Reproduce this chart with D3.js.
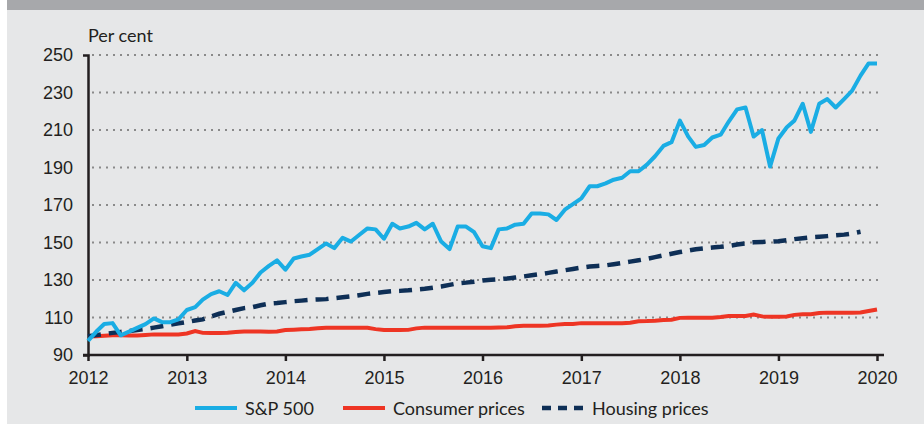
<!DOCTYPE html>
<html>
<head>
<meta charset="utf-8">
<script src="https://cdn.jsdelivr.net/npm/d3@7.9.0/dist/d3.min.js"></script>
<style>
  body { margin: 0; background: #fff; }
  svg { display: block; font-family: Lato, 'Open Sans', sans-serif; }
  .tick text { fill: #231f20; font-size: 18px; }
</style>
</head>
<body>
<svg width="924" height="424"></svg>
<script>
// monthly index values, Jan 2012 onwards
const spx = [
  97.5, 102.5, 106.5, 107, 100.5, 102.5, 104.5, 106.5, 109.5, 107.5, 107.5, 109,
  114, 115.5, 119.5, 122.5, 124, 122, 128.5, 124.5, 128.5, 134, 137.5, 140.5,
  135.5, 141.5, 142.5, 143.5, 146.5, 149.5, 147, 152.5, 150.5, 154, 157.5, 157,
  152, 160, 157.5, 158.5, 160.5, 157, 160, 150.5, 146.5, 158.5, 158.5, 155.5,
  148, 147, 157, 157.5, 159.5, 160, 165.5, 165.5, 165, 162, 167.5, 170.5,
  173.5, 180, 180, 181.5, 183.5, 184.5, 188, 188, 191.5, 196, 201.5, 203.5,
  215, 206.5, 201, 202, 206, 207.5, 214.5, 221, 222, 206.5, 210, 190.5,
  205.5, 211.5, 215, 224, 209, 224, 226.5, 222, 226.5, 231, 239, 245.5, 245.5
];
const cpi = [
  99.8, 100, 100.3, 100.5, 100.5, 100.4, 100.4, 100.7, 101, 101, 100.9, 100.9,
  101.5, 102.8, 101.8, 101.7, 101.7, 101.9, 102.3, 102.5, 102.5, 102.5, 102.4, 102.5,
  103.3, 103.5, 103.7, 103.9, 104.3, 104.5, 104.6, 104.6, 104.6, 104.6, 104.5, 103.8,
  103.3, 103.3, 103.3, 103.4, 104.2, 104.6, 104.6, 104.6, 104.6, 104.6, 104.6, 104.6,
  104.6, 104.6, 104.7, 104.8, 105.3, 105.6, 105.6, 105.6, 105.7, 106.2, 106.5, 106.5,
  107, 107, 107, 107, 107, 107, 107.2, 108, 108.1, 108.3, 108.7, 108.8,
  109.8, 109.9, 109.9, 109.9, 109.9, 110.3, 110.8, 110.8, 110.8, 111.6, 110.6, 110.4,
  110.4, 110.5, 111.4, 111.7, 111.7, 112.4, 112.6, 112.6, 112.6, 112.6, 112.7, 113.5, 114.3
];
const housing = [
  100, 100.6, 101.2, 101.8, 102.3, 102.8, 103.3, 103.9, 104.6, 105.3, 106.1, 106.9,
  107.6, 108.4, 109, 110.6, 112, 113, 114, 115, 115.5, 116.5, 117.4, 117.7,
  118.2, 118.7, 119, 119.4, 119.6, 119.8, 120.3, 120.8, 121.3, 121.9, 122.6, 123.1,
  123.6, 124, 124.2, 124.5, 124.9, 125.3, 125.9, 126.5, 127.4, 128.2, 128.6, 129.1,
  129.7, 130.1, 130.4, 130.8, 131.3, 131.9, 132.5, 133.1, 133.8, 134.5, 135.2, 135.9,
  136.6, 137.2, 137.5, 137.8, 138.4, 139.1, 139.8, 140.5, 141.3, 142.2, 143.1, 144,
  144.9, 145.7, 146.4, 146.9, 147.3, 147.7, 148.2, 148.9, 149.6, 150.1, 150.3, 150.4,
  150.7, 151.2, 151.8, 152.3, 152.8, 153.1, 153.4, 153.8, 154.2, 154.8, 155.7
];
const yTicks = [90, 110, 130, 150, 170, 190, 210, 230, 250];
const seriesNames = ['S&P 500', 'Consumer prices', 'Housing prices'];
const colors = ['#1aade4', '#ee3524', '#0e2f56'];

const start = new Date(2012, 0, 1);
const monthDate = (i) => d3.timeMonth.offset(start, i);

const svg = d3.select('svg');

// header strip and panel
svg.append('rect').attr('x', 7).attr('y', 0).attr('width', 917).attr('height', 10).attr('fill', '#a7a8ab');
svg.append('rect').attr('x', 7).attr('y', 10).attr('width', 917).attr('height', 414).attr('fill', '#e6e7e8');

let x = d3.scaleTime().domain([start, new Date(2020, 0, 1)]).range([88, 877]);
let y = d3.scaleLinear().domain([90, 250]).range([355, 55]);

// dotted grid
svg.append('g')
  .selectAll('line')
  .data(yTicks.slice(1))
  .join('line')
  .attr('x1', 92).attr('x2', 880)
  .attr('y1', (d) => y(d)).attr('y2', (d) => y(d))
  .attr('stroke', '#8a8a8a')
  .attr('stroke-width', 2)
  .attr('stroke-dasharray', '2,5');

// y axis
let yAxis = svg.append('g')
  .attr('transform', 'translate(88,0)')
  .call(d3.axisLeft(y).tickValues(yTicks).tickSizeInner(0).tickSizeOuter(5).tickPadding(15));
yAxis.select('.domain').attr('stroke', '#231f20').attr('stroke-width', 2.5);

// x axis
let xAxis = svg.append('g')
  .attr('transform', 'translate(0,355)')
  .call(d3.axisBottom(x).ticks(d3.timeYear.every(1)).tickFormat(d3.timeFormat('%Y')).tickSizeInner(6).tickSizeOuter(0).tickPadding(10));
xAxis.select('.domain').remove();
xAxis.selectAll('.tick line').attr('stroke', '#231f20').attr('stroke-width', 2.5);
xAxis.append('line')
  .attr('x1', 83).attr('x2', 884)
  .attr('stroke', '#231f20').attr('stroke-width', 2.5);

svg.append('text')
  .attr('x', 88).attr('y', 42)
  .attr('font-size', 18).attr('fill', '#231f20')
  .text('Per cent');

let line = d3.line()
  .x((d, i) => x(monthDate(i)))
  .y((d) => y(d));

svg.append('path').datum(cpi)
  .attr('d', line).attr('fill', 'none')
  .attr('stroke', colors[1]).attr('stroke-width', 4);

svg.append('path').datum(housing)
  .attr('d', line).attr('fill', 'none')
  .attr('stroke', colors[2]).attr('stroke-width', 4.5)
  .attr('stroke-dasharray', '13,8');

svg.append('path').datum(spx)
  .attr('d', line).attr('fill', 'none')
  .attr('stroke', colors[0]).attr('stroke-width', 4)
  .attr('stroke-linejoin', 'round');

// legend
const legendX = [195, 343, 542];
let legend = svg.append('g').attr('transform', 'translate(0,408)');
seriesNames.forEach((name, i) => {
  legend.append('line')
    .attr('x1', legendX[i]).attr('x2', legendX[i] + 42)
    .attr('stroke', colors[i]).attr('stroke-width', i === 2 ? 4.5 : 4)
    .attr('stroke-dasharray', i === 2 ? '9,7' : null);
  legend.append('text')
    .attr('x', legendX[i] + 50).attr('y', 6.5)
    .attr('font-size', 18).attr('fill', '#231f20')
    .text(name);
});
</script>
</body>
</html>
